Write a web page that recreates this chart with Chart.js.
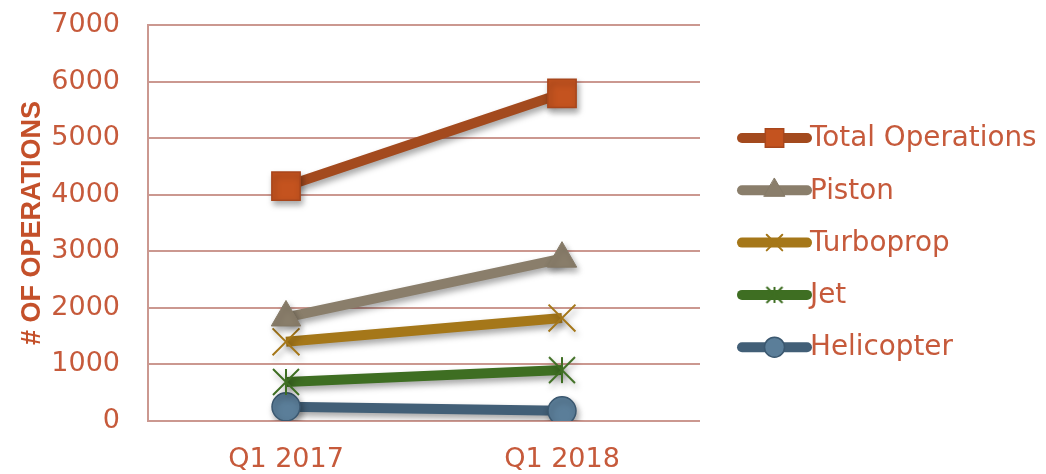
<!DOCTYPE html>
<html>
<head>
<meta charset="utf-8">
<script src="https://cdn.jsdelivr.net/npm/chart.js@4/dist/chart.umd.min.js"></script>
<style>
  html, body { margin: 0; padding: 0; background: #fff; }
  #wrap { width: 1046px; height: 474px; }
</style>
</head>
<body>
<div id="wrap"><canvas id="opsChart"></canvas></div>
<script>
// Data
const quarters = ['Q1 2017', 'Q1 2018'];
const totalOps = [4150, 5790];
const piston = [1830, 2870];
const turboprop = [1400, 1820];
const jet = [690, 900];
const helicopter = [250, 180];
const yTicks = [0, 1000, 2000, 3000, 4000, 5000, 6000, 7000];

const textColor = '#c65a3b';
const fontFamily = "'DejaVu Sans', sans-serif";

// Asterisk marker (X plus a vertical bar), like the office "star" marker
function makeAsterisk(half, color, width) {
  const size = Math.ceil(half * 2 + width * 2);
  const c = document.createElement('canvas');
  c.width = size;
  c.height = size;
  const g = c.getContext('2d');
  const m = size / 2;
  g.strokeStyle = color;
  g.lineWidth = width;
  g.beginPath();
  g.moveTo(m - half, m - half); g.lineTo(m + half, m + half);
  g.moveTo(m + half, m - half); g.lineTo(m - half, m + half);
  g.moveTo(m, m - half); g.lineTo(m, m + half);
  g.stroke();
  return c;
}

// Soft drop shadow under lines and markers
const shadowPlugin = {
  id: 'shadow',
  beforeDatasetsDraw(chart) {
    const ctx = chart.ctx;
    ctx.save();
    ctx.shadowColor = 'rgba(0,0,0,0.35)';
    ctx.shadowBlur = 6;
    ctx.shadowOffsetX = 2;
    ctx.shadowOffsetY = 4;
  },
  afterDatasetsDraw(chart) {
    chart.ctx.restore();
  }
};

// Legend drawn as thick line samples with the marker on top
const lineLegend = {
  id: 'lineLegend',
  afterDraw(chart) {
    const ctx = chart.ctx;
    const x0 = 742, x1 = 807, yStart = 138, step = 52.3;
    chart.data.datasets.forEach((ds, i) => {
      const y = yStart + i * step;
      ctx.save();
      ctx.lineCap = 'round';
      ctx.lineWidth = 10;
      ctx.strokeStyle = ds.borderColor;
      ctx.beginPath();
      ctx.moveTo(x0, y);
      ctx.lineTo(x1, y);
      ctx.stroke();
      ctx.fillStyle = ds.pointBackgroundColor;
      ctx.strokeStyle = ds.pointBorderColor;
      ctx.lineWidth = ds.pointBorderWidth;
      Chart.helpers.drawPoint(ctx, {
        pointStyle: ds.legendStyle || ds.pointStyle,
        radius: ds.legendRadius,
        borderWidth: ds.pointBorderWidth,
        rotation: 0
      }, (x0 + x1) / 2, y);
      ctx.fillStyle = textColor;
      ctx.font = '27.8px ' + fontFamily;
      ctx.textBaseline = 'middle';
      ctx.textAlign = 'left';
      ctx.fillText(ds.label, x1 + 3, y + 1);
      ctx.restore();
    });
  }
};

const ctx = document.getElementById('opsChart').getContext('2d');
new Chart(ctx, {
  type: 'line',
  data: {
    labels: quarters,
    datasets: [
      {
        label: 'Total Operations',
        data: totalOps,
        borderColor: '#a34a1e',
        borderWidth: 10,
        pointStyle: 'rect',
        pointRadius: 20,
        legendRadius: 13,
        pointBackgroundColor: '#c4531f',
        pointBorderColor: '#a8461c',
        pointBorderWidth: 1.5,
        order: 1
      },
      {
        label: 'Piston',
        data: piston,
        borderColor: '#8a7e6b',
        borderWidth: 10,
        pointStyle: 'triangle',
        pointRadius: 17,
        legendRadius: 12,
        pointBackgroundColor: '#8a7e6b',
        pointBorderColor: '#857a67',
        pointBorderWidth: 1,
        order: 2
      },
      {
        label: 'Turboprop',
        data: turboprop,
        borderColor: '#a57719',
        borderWidth: 10,
        pointStyle: 'crossRot',
        pointRadius: 19,
        legendRadius: 11,
        pointBackgroundColor: '#a57719',
        pointBorderColor: '#a57719',
        pointBorderWidth: 2,
        order: 3
      },
      {
        label: 'Jet',
        data: jet,
        borderColor: '#3e6e22',
        borderWidth: 10,
        pointStyle: makeAsterisk(13, '#3e6e22', 2),
        legendStyle: makeAsterisk(8, '#3e6e22', 2),
        pointRadius: 19,
        legendRadius: 11,
        pointBackgroundColor: '#3e6e22',
        pointBorderColor: '#3e6e22',
        pointBorderWidth: 2,
        order: 4
      },
      {
        label: 'Helicopter',
        data: helicopter,
        borderColor: '#425f77',
        borderWidth: 10,
        pointStyle: 'circle',
        pointRadius: 14,
        legendRadius: 10,
        pointBackgroundColor: '#5b7e99',
        pointBorderColor: '#3b5870',
        pointBorderWidth: 1.5,
        order: 5
      }
    ]
  },
  options: {
    responsive: true,
    maintainAspectRatio: false,
    animation: false,
    layout: { autoPadding: false, padding: { top: 25, right: 346, bottom: 0, left: 0 } },
    plugins: {
      legend: { display: false },
      tooltip: { enabled: false }
    },
    scales: {
      x: {
        offset: true,
        grid: { display: false },
        border: { display: false },
        ticks: {
          color: textColor,
          padding: 15,
          font: { family: fontFamily, size: 27 }
        },
        afterFit(scale) { scale.height = 53; }
      },
      y: {
        min: yTicks[0],
        max: yTicks[yTicks.length - 1],
        ticks: {
          stepSize: yTicks[1] - yTicks[0],
          color: textColor,
          padding: 28,
          font: { family: fontFamily, size: 27 },
          callback: (v) => String(v)
        },
        grid: {
          color: '#cb9890',
          lineWidth: 2,
          drawTicks: false
        },
        border: { display: true, color: '#cb9890', width: 2 },
        title: {
          display: true,
          text: '# OF OPERATIONS',
          color: '#c4502a',
          padding: { top: 16, bottom: 0 },
          font: { family: "'Liberation Sans', Arial, sans-serif", size: 27, weight: 'bold' }
        },
        afterFit(scale) {
          scale.width = 148;
          scale.paddingTop = 0;
          scale.paddingBottom = 0;
        }
      }
    }
  },
  plugins: [shadowPlugin, lineLegend]
});
</script>
</body>
</html>
